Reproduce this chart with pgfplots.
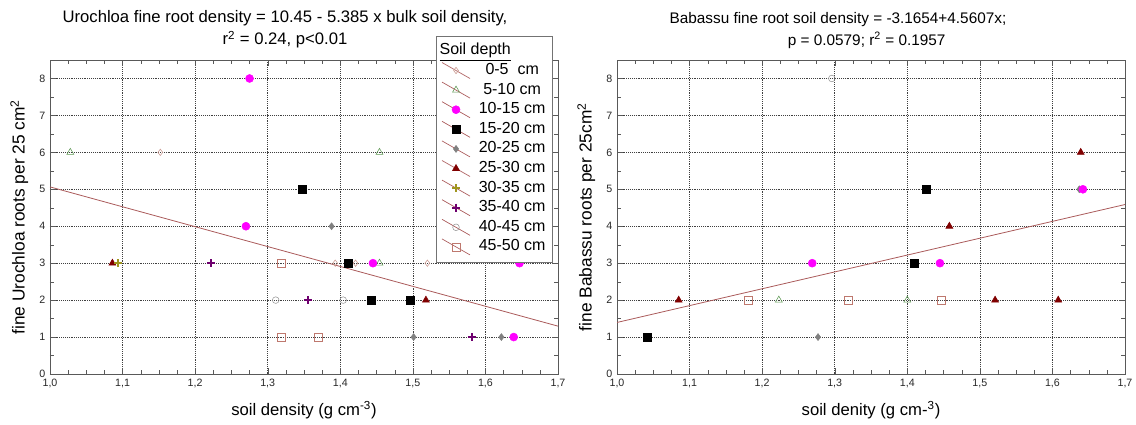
\documentclass[border=0pt]{standalone}
\usepackage{pgfplots}
\pgfplotsset{compat=1.18}
\usepackage{fontspec}
\setmainfont{Liberation Sans}

\definecolor{regline}{RGB}{170,90,90}
\definecolor{c05}{RGB}{200,150,140}
\definecolor{c510}{RGB}{90,150,80}
\definecolor{c1015}{RGB}{255,0,255}
\definecolor{c1520}{RGB}{0,0,0}
\definecolor{c2025}{RGB}{128,128,128}
\definecolor{c2530}{RGB}{128,0,0}
\definecolor{c3035}{RGB}{160,150,30}
\definecolor{c3540}{RGB}{110,0,110}
\definecolor{c4045}{RGB}{150,150,150}
\definecolor{c4550}{RGB}{190,120,110}

\pgfplotsset{
  rootaxis/.style={
    scale only axis, width=381pt, height=235.5pt,
    xmin=1, xmax=1.7, ymin=0, ymax=8.5,
    xtick={1.0,1.1,1.2,1.3,1.4,1.5,1.6,1.7},
    ytick={0,1,2,3,4,5,6,7,8},
    minor x tick num=3, minor y tick num=1,
    grid=major,
    major grid style={densely dotted, black!75},
    axis line style={black!65},
    tick style={black!65},
    xticklabel style={/pgf/number format/.cd, fixed, fixed zerofill, precision=1, use comma},
    /pgf/number format/assume math mode=true,
    tick label style={font=\fontsize{8}{9}\selectfont, text=black!85},
    every axis y label/.style={at={(rel axis cs:0,0.5)}, rotate=90, anchor=center, yshift=23pt,
      font=\fontsize{13}{15}\selectfont},
    every axis x label/.style={at={(rel axis cs:0.5,0)}, anchor=center, yshift=-27pt,
      font=\fontsize{12.5}{14}\selectfont},
    title style={align=center, anchor=south, inner sep=0pt, yshift=2.5pt},
  },
  s05/.style={only marks, mark=diamond, mark size=2.4pt, color=c05},
  s510/.style={only marks, mark=triangle, mark size=3pt, color=c510},
  s1015/.style={only marks, mark=*, mark size=3pt, color=c1015},
  s1520/.style={only marks, mark=square*, mark size=3pt, color=c1520},
  s2025/.style={only marks, mark=diamond*, mark size=2.6pt, color=c2025},
  s2530/.style={only marks, mark=triangle*, mark size=3pt, color=c2530},
  s3035/.style={only marks, mark=+, mark size=3pt, color=c3035, mark options={line width=1.5pt}},
  s3540/.style={only marks, mark=+, mark size=3pt, color=c3540, mark options={line width=1.5pt}},
  s4045/.style={only marks, mark=o, mark size=2.5pt, color=c4045},
  s4550/.style={only marks, mark=square, mark size=3pt, color=c4550},
}

\begin{document}
\begin{tikzpicture}
\useasboundingbox (-37.5pt,-38.25pt) rectangle (814.5pt,280.5pt);

\begin{axis}[
  rootaxis,
  title style={at={(rel axis cs:0.4626,1)}, font=\fontsize{12.5}{16.5}\selectfont},
  title={Urochloa fine root density = 10.45 - 5.385 x bulk soil density,\\ r\textsuperscript{2} = 0.24, p<0.01},
  xlabel={soil density (g cm\textsuperscript{-3})},
  ylabel={fine Urochloa roots per 25 cm\textsuperscript{2}},
  legend style={at={(rel axis cs:0.990,1.078)}, anchor=north east,
    draw=black!55, fill=white, font=\fontsize{12}{14}\selectfont,
    inner sep=4pt, row sep=0pt, column sep=5pt,
    nodes={inner sep=1.35pt, text height=9pt, text depth=3pt}},
  legend cell align=center,
  legend image code/.code={
    \draw[regline, line width=0.5pt] (0pt,6pt) -- (21pt,-6pt);
    \draw[#1] plot coordinates {(10.5pt,0pt)};
  },
]
\addlegendimage{legend image code/.code={\node[overlay, anchor=west, inner sep=0pt] at (-2pt,0pt) {\underline{Soil depth}};}}
\addlegendentry{\strut}

\addplot[regline, line width=0.6pt, forget plot] coordinates {(1.0,5.065) (1.7,1.2955)};

\addplot[s05] coordinates {(1.152,6) (1.393,3) (1.421,3) (1.52,3)};
\addlegendentry{0-5\ \ cm}
\addplot[s510] coordinates {(1.028,6) (1.454,6) (1.454,3)};
\addlegendentry{5-10 cm}
\addplot[s1015] coordinates {(1.275,8) (1.270,4) (1.445,3) (1.647,3) (1.639,1)};
\addlegendentry{10-15 cm}
\addplot[s1520] coordinates {(1.347,5) (1.411,3) (1.443,2) (1.497,2)};
\addlegendentry{15-20 cm}
\addplot[s2025] coordinates {(1.388,4) (1.501,1) (1.622,1)};
\addlegendentry{20-25 cm}
\addplot[s2530] coordinates {(1.086,3) (1.518,2)};
\addlegendentry{25-30 cm}
\addplot[s3035] coordinates {(1.094,3)};
\addlegendentry{30-35 cm}
\addplot[s3540] coordinates {(1.222,3) (1.356,2) (1.581,1)};
\addlegendentry{35-40 cm}
\addplot[s4045] coordinates {(1.311,2) (1.404,2)};
\addlegendentry{40-45 cm}
\addplot[s4550] coordinates {(1.319,3) (1.318,1) (1.370,1)};
\addlegendentry{45-50 cm}
\end{axis}

\begin{axis}[
  rootaxis,
  at={(425.25pt,0pt)},
  title style={at={(rel axis cs:0.435,1)}, font=\fontsize{11.5}{16.5}\selectfont},
  title={Babassu fine root soil density = -3.1654+4.5607x;\\ \hspace*{43pt}p = 0.0579; r\textsuperscript{2} = 0.1957},
  xlabel={soil denity (g cm-\textsuperscript{3})},
  ylabel={fine Babassu roots per 25cm\textsuperscript{2}},
]
\addplot[regline, line width=0.6pt] coordinates {(1.0,1.3953) (1.7,4.5878)};
\addplot[s4045] coordinates {(1.296,8)};
\addplot[s2530] coordinates {(1.639,6) (1.458,4) (1.085,2) (1.521,2) (1.608,2)};
\addplot[s1520] coordinates {(1.426,5) (1.410,3) (1.042,1)};
\addplot[s2025] coordinates {(1.637,5) (1.277,1)};
\addplot[s1015] coordinates {(1.642,5) (1.269,3) (1.445,3)};
\addplot[s4550] coordinates {(1.181,2) (1.318,2) (1.447,2)};
\addplot[s510] coordinates {(1.223,2) (1.400,2)};
\end{axis}
\end{tikzpicture}
\end{document}
